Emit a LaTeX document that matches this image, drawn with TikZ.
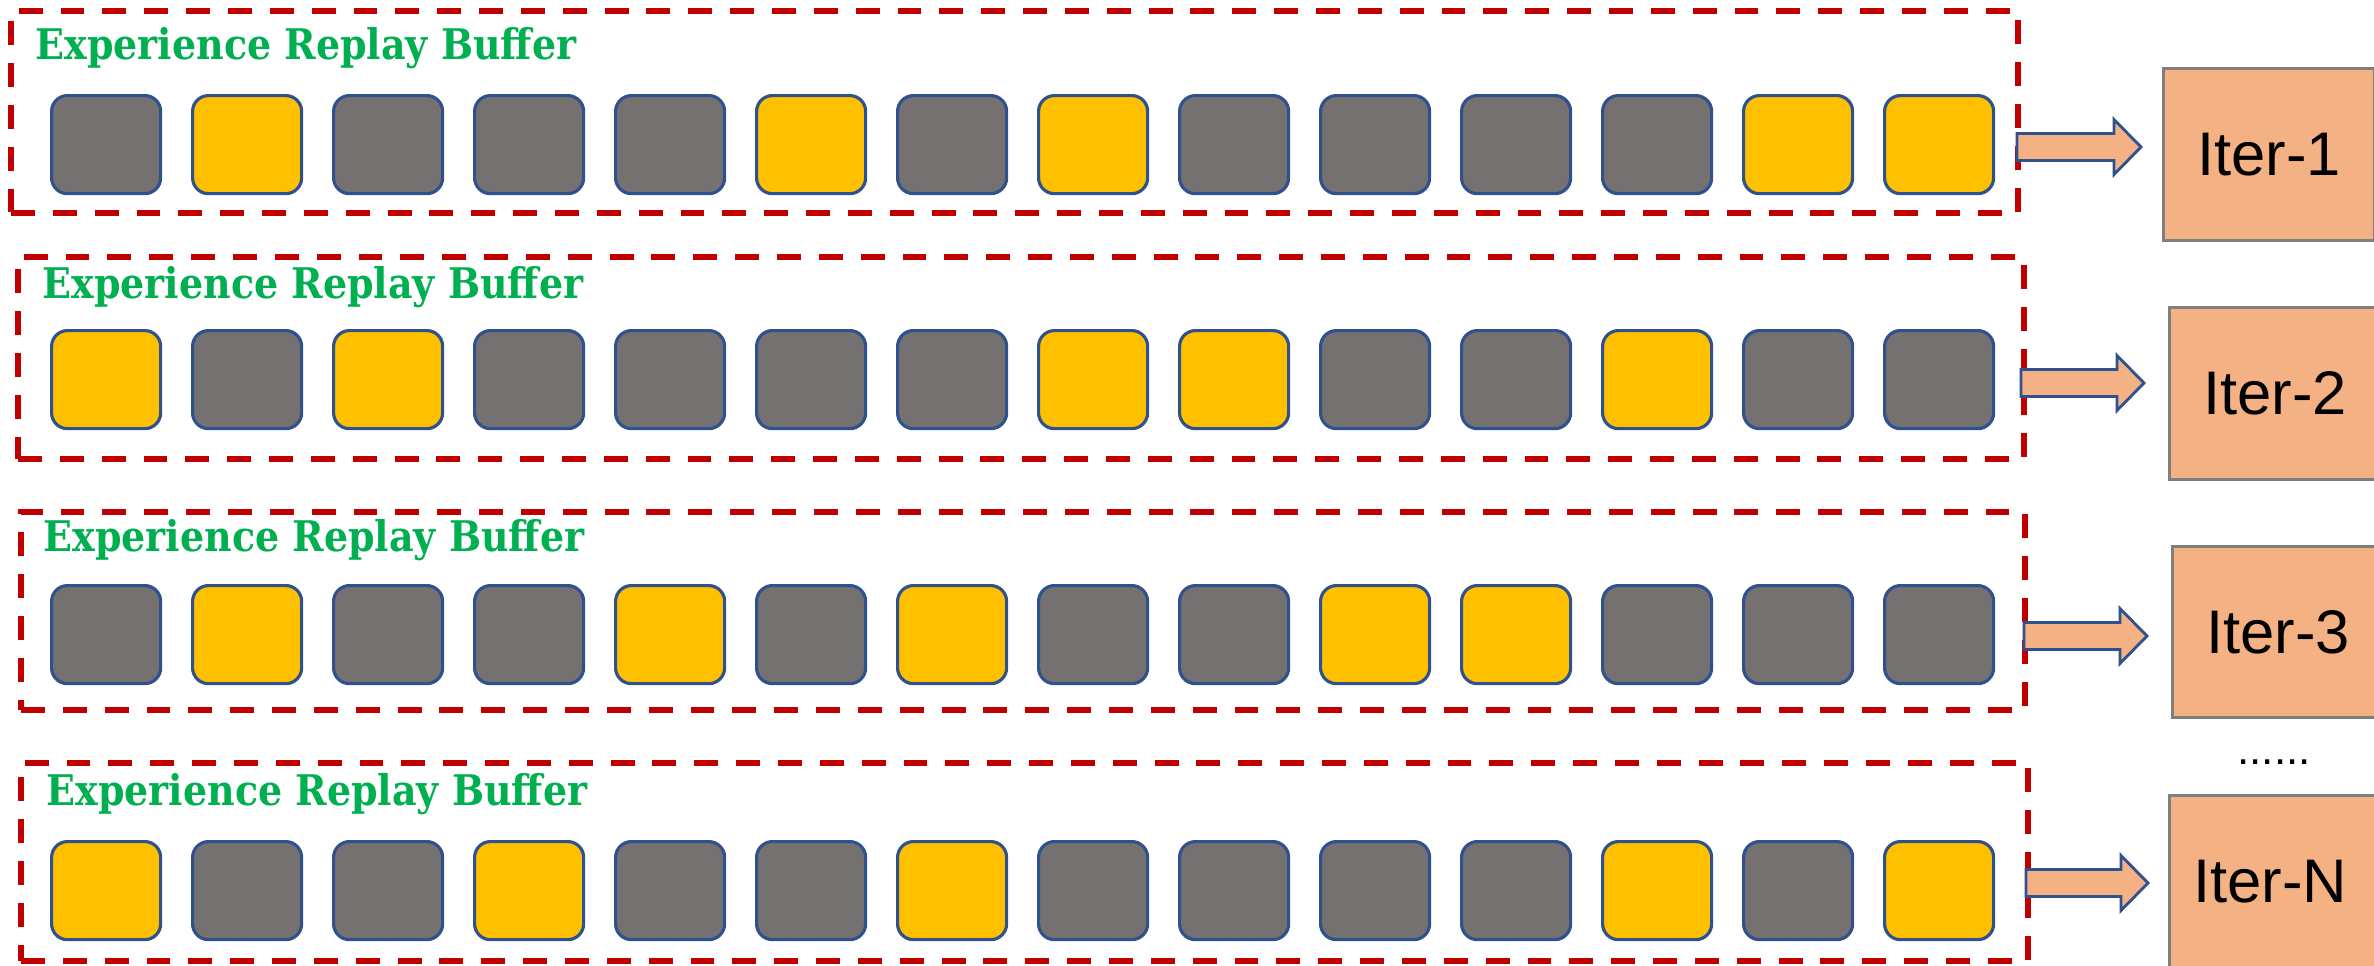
\documentclass[tikz,border=0pt]{standalone}
\usepackage{fontspec}
\setmainfont{Liberation Sans}
\newfontfamily\lblfont[FakeStretch=0.9]{DejaVu Serif Bold}
\usetikzlibrary{calc}
\definecolor{cg}{HTML}{767171}
\definecolor{cy}{HTML}{FFC000}
\definecolor{cblue}{HTML}{2F528F}
\definecolor{cred}{HTML}{C00000}
\definecolor{cgreen}{HTML}{00B050}
\definecolor{corange}{HTML}{F4B183}
\definecolor{cbord}{HTML}{7F7F7F}
\begin{document}
\begin{tikzpicture}[x=0.01cm,y=-0.01cm,
  cell/.style={draw=cblue, line width=0.9pt, rounded corners=4.5pt, minimum width=1.09cm, minimum height=0.98cm, inner sep=0pt, anchor=north west},
  buf/.style={draw=cred, line width=1.7pt, dash pattern=on 6.8pt off 5.1pt, inner sep=0pt, anchor=north west},
  lbl/.style={text=cgreen, font=\lblfont\fontsize{12}{14}\selectfont, inner sep=0pt, anchor=base west},
  iter/.style={draw=cbord, fill=corange, line width=0.9pt, inner sep=0pt, anchor=north west, font=\fontsize{17.5}{20}\selectfont},
  blk/.style={draw=cblue, fill=corange, line width=0.8pt, line join=miter}
]
\useasboundingbox (0,0) rectangle (2374,966);

% buffers
\node[buf, minimum width=20.06cm, minimum height=2.02cm] (b1) at (8,8) {};
\node[buf, minimum width=20.05cm, minimum height=2.02cm] (b2) at (15,254) {};
\node[buf, minimum width=20.03cm, minimum height=1.98cm] (b3) at (18,509) {};
\node[buf, minimum width=20.06cm, minimum height=1.98cm] (b4) at (18,760) {};

% labels
\node[lbl] (l1) at (35,59) {Experience Replay Buffer};
\node[lbl] (l2) at (42,298) {Experience Replay Buffer};
\node[lbl] (l3) at (43,551) {Experience Replay Buffer};
\node[lbl] (l4) at (46,805) {Experience Replay Buffer};

% cells
\foreach \c [count=\i from 0] in {g,y,g,g,g,y,g,y,g,g,g,g,y,y}
  \node[cell, fill=c\c] (r1s\i) at ({50+141*\i},94) {};
\foreach \c [count=\i from 0] in {y,g,y,g,g,g,g,y,y,g,g,y,g,g}
  \node[cell, fill=c\c] (r2s\i) at ({50+141*\i},329) {};
\foreach \c [count=\i from 0] in {g,y,g,g,y,g,y,g,g,y,y,g,g,g}
  \node[cell, fill=c\c] (r3s\i) at ({50+141*\i},584) {};
\foreach \c [count=\i from 0] in {y,g,g,y,g,g,y,g,g,g,g,y,g,y}
  \node[cell, fill=c\c] (r4s\i) at ({50+141*\i},840) {};

% iteration boxes
\node[iter, minimum width=2.11cm, minimum height=1.72cm] (it1) at (2162,67) {Iter-1};
\node[iter, minimum width=2.11cm, minimum height=1.72cm] (it2) at (2168,306) {Iter-2};
\node[iter, minimum width=2.11cm, minimum height=1.71cm] (it3) at (2171,545) {Iter-3};
\node[iter, minimum width=2.11cm, minimum height=1.72cm] (it4) at (2168,794) {};
\node[font=\fontsize{17.5}{20}\selectfont, inner sep=0pt] (itN) at (2270,882) {Iter-N};
\node[font=\fontsize{12.5}{14}\selectfont, inner sep=0pt, anchor=base] (dots) at (2274,764) {......};

% block arrows
\foreach \r/\xa/\xb/\yc in {1/2017/2141/147, 2/2021/2144/383, 3/2024/2147/636, 4/2026/2148/883}{
  \coordinate (as\r) at (\xa,\yc);
  \coordinate (ae\r) at (\xb,\yc);
  \draw[blk] ($(as\r)+(0,-13.5)$) -- ($(ae\r)+(-27,-13.5)$) -- ($(ae\r)+(-27,-27.5)$)
     -- (ae\r) -- ($(ae\r)+(-27,27.5)$) -- ($(ae\r)+(-27,13.5)$) -- ($(as\r)+(0,13.5)$) -- cycle;
}
\end{tikzpicture}
\end{document}
